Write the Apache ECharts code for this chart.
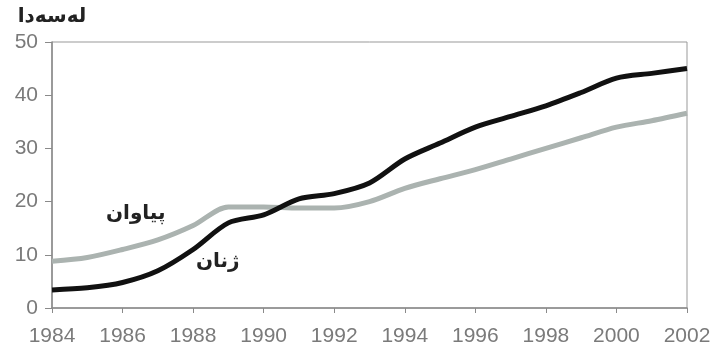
<!DOCTYPE html>
<html><head><meta charset="utf-8">
<script src="https://cdn.jsdelivr.net/npm/echarts@6/dist/echarts.min.js"></script>
<style>html,body{margin:0;padding:0;background:#fff}#c{width:716px;height:348px}</style>
</head><body><div id="c"></div>
<script>
const years = [1984,1985,1986,1987,1988,1989,1990,1991,1992,1993,1994,1995,1996,1997,1998,1999,2000,2001,2002];
const women = [3.4,3.8,4.8,7,11,16,17.5,20.5,21.5,23.5,28,31,34,36,38,40.5,43.2,44.1,45];
const men = [8.8,9.5,11,12.8,15.5,19,19,18.8,18.8,20,22.5,24.3,26,28,30,32,34,35.2,36.6];
const yName = 'لەسەدا';
const menLabel = 'پیاوان';
const womenLabel = 'ژنان';

const chart = echarts.init(document.getElementById('c'));
const axisCol = '#8a8a8a';
chart.setOption({
  animation:false,
  textStyle:{fontFamily:'Liberation Sans'},
  grid:{left:52,right:29,top:42,bottom:40,show:true,borderColor:'#999',borderWidth:1},
  xAxis:{type:'value',min:1984,max:2002,interval:2,
    axisLine:{lineStyle:{color:axisCol,width:1.5}},
    axisTick:{show:true,length:5,lineStyle:{color:axisCol}},
    splitLine:{show:false},
    axisLabel:{show:true,margin:18,color:'#7a7a7a',fontSize:21,fontFamily:'Liberation Sans',formatter:function(v){return String(v);}}},
  yAxis:{type:'value',min:0,max:50,interval:10,name:yName,
    nameLocation:'end',nameGap:15,
    nameTextStyle:{color:'#222',fontSize:20,fontWeight:'bold',fontFamily:'DejaVu Sans',align:'center'},
    axisLine:{show:true,lineStyle:{color:axisCol,width:1.5}},
    axisTick:{show:true,length:7,lineStyle:{color:axisCol}},
    splitLine:{show:false},
    axisLabel:{show:true,margin:14,color:'#7a7a7a',fontSize:21,fontFamily:'Liberation Sans'}},
  series:[
    {type:'line',data:years.map((y,i)=>[y,men[i]]),smooth:0.3,symbol:'none',
     lineStyle:{color:'#abb3b0',width:5}},
    {type:'line',data:years.map((y,i)=>[y,women[i]]),smooth:0.3,symbol:'none',
     lineStyle:{color:'#111',width:5}}
  ],
  graphic:[
    {type:'text',left:106,top:204,style:{text:menLabel,fill:'#222',font:'bold 20px "DejaVu Sans"'}},
    {type:'text',left:196,top:252,style:{text:womenLabel,fill:'#222',font:'bold 20px "DejaVu Sans"'}}
  ]
});
</script></body></html>
